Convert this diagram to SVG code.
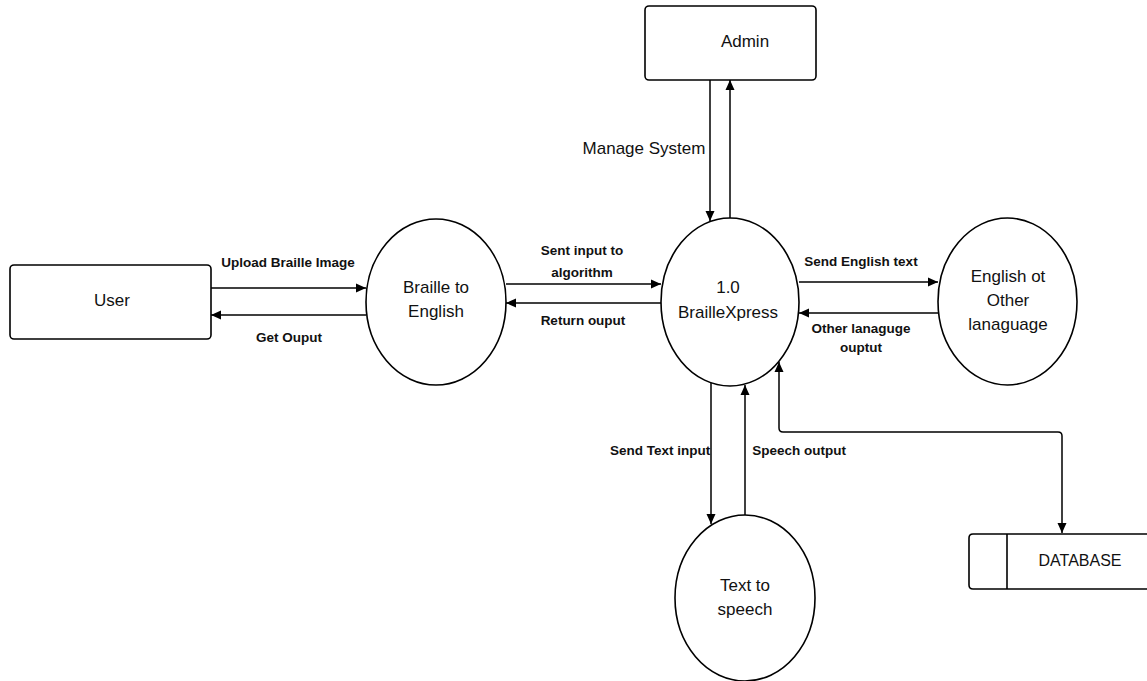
<svg xmlns="http://www.w3.org/2000/svg" width="1147" height="681" viewBox="0 0 1147 681">
<defs>
<style>
.box{fill:#fff;stroke:#000;stroke-width:1.6}
.proc{fill:#fff;stroke:#000;stroke-width:1.6}
.t{font-family:"Liberation Sans",Arial,sans-serif;font-size:17px;fill:#111;text-anchor:middle}
.lb{font-family:"Liberation Sans",Arial,sans-serif;font-size:13.5px;font-weight:bold;fill:#111;text-anchor:middle}
.c{fill:none;stroke:#000;stroke-width:1.5}
</style>
<marker id="ah" viewBox="0 0 10 10" refX="10" refY="5" markerWidth="10" markerHeight="10" markerUnits="userSpaceOnUse" orient="auto-start-reverse">
<path d="M0,0.5 L10,5 L0,9.5 Z" fill="#000"/>
</marker>
</defs>
<rect width="1147" height="681" fill="#fff"/>

<g id="connectors">
<line class="c" x1="211" y1="288" x2="366" y2="288" marker-end="url(#ah)"/>
<line class="c" x1="366" y1="315" x2="211" y2="315" marker-end="url(#ah)"/>
<line class="c" x1="506" y1="284" x2="661" y2="284" marker-end="url(#ah)"/>
<line class="c" x1="661" y1="303" x2="506" y2="303" marker-end="url(#ah)"/>
<line class="c" x1="799" y1="282" x2="938" y2="282" marker-end="url(#ah)"/>
<line class="c" x1="938" y1="313" x2="799" y2="313" marker-end="url(#ah)"/>
<line class="c" x1="710" y1="80" x2="710" y2="221" marker-end="url(#ah)"/>
<line class="c" x1="730" y1="218" x2="730" y2="80" marker-end="url(#ah)"/>
<line class="c" x1="711" y1="382" x2="711" y2="524" marker-end="url(#ah)"/>
<line class="c" x1="745" y1="515" x2="745" y2="385" marker-end="url(#ah)"/>
<path class="c" d="M779,362 V428 Q779,432 783,432 H1058 Q1062,432 1062,436 V533" marker-start="url(#ah)" marker-end="url(#ah)"/>
<text class="lb" x="288" y="267">Upload Braille Image</text>
<text class="lb" x="289" y="342">Get Ouput</text>
<text class="lb" x="582" y="255">Sent input to</text>
<text class="lb" x="582" y="277">algorithm</text>
<text class="lb" x="583" y="325">Return ouput</text>
<text class="lb" x="861" y="266">Send English text</text>
<text class="lb" x="861" y="333">Other lanaguge</text>
<text class="lb" x="861" y="352">ouptut</text>
<text class="t" x="644" y="154">Manage System</text>
<text class="lb" x="660" y="455">Send Text input</text>
<text class="lb" x="799" y="455">Speech output</text>
</g>

<g id="user">
<rect class="box" x="10" y="265" width="201" height="74" rx="4"/>
<text class="t" x="112" y="306">User</text>
</g>

<g id="admin">
<rect class="box" x="645" y="6" width="171" height="74" rx="4"/>
<text class="t" x="745" y="47">Admin</text>
</g>

<g id="braille-to-english">
<ellipse class="proc" cx="436" cy="302" rx="70" ry="83"/>
<text class="t" x="436" y="293">Braille to</text>
<text class="t" x="436" y="317">English</text>
</g>

<g id="braillexpress">
<ellipse class="proc" cx="730" cy="302" rx="69" ry="84"/>
<text class="t" x="728" y="293">1.0</text>
<text class="t" x="728" y="318">BrailleXpress</text>
</g>

<g id="english-other">
<ellipse class="proc" cx="1007.5" cy="301.5" rx="69.5" ry="83.5"/>
<text class="t" x="1008" y="282">English ot</text>
<text class="t" x="1008" y="306">Other</text>
<text class="t" x="1008" y="330">lanaguage</text>
</g>

<g id="text-to-speech">
<ellipse class="proc" cx="745" cy="598" rx="70" ry="83"/>
<text class="t" x="745" y="591">Text to</text>
<text class="t" x="745" y="615">speech</text>
</g>

<g id="database">
<path class="box" d="M1147,534 H973 Q969,534 969,538 V585 Q969,589 973,589 H1147"/>
<line class="box" x1="1007" y1="534" x2="1007" y2="589"/>
<text class="t" x="1080" y="566" style="font-size:16px">DATABASE</text>
</g>
</svg>
